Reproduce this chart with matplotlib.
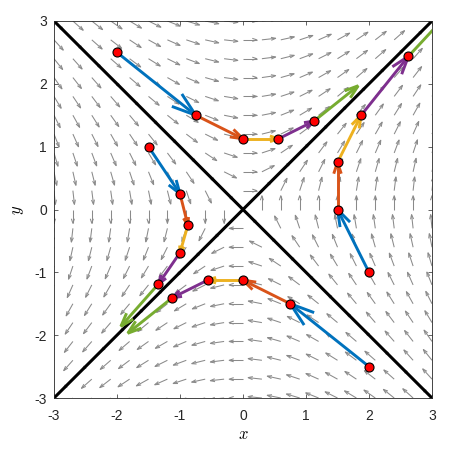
import numpy as np
import matplotlib.pyplot as plt
from matplotlib.collections import LineCollection

plt.rcParams['mathtext.fontset'] = 'cm'
plt.rcParams['font.family'] = ['Liberation Sans', 'DejaVu Sans']
plt.rcParams['axes.unicode_minus'] = False

# iterates, one row per run (the last point has no dot)
traj_x = [
    [-2.0, -0.75, 0.0, 0.5625, 1.125, 1.828],
    [-1.5, -1.0, -0.875, -1.0, -1.344, -1.938],
    [2.0, 0.75, 0.0, -0.5625, -1.125, -1.828],
    [2.0, 1.5, 1.5, 1.875, 2.625, 3.84],
]
traj_y = [
    [2.5, 1.5, 1.125, 1.125, 1.406, 1.969],
    [1.0, 0.25, -0.25, -0.6875, -1.1875, -1.859],
    [-2.5, -1.5, -1.125, -1.125, -1.406, -1.969],
    [-1.0, 0.0, 0.75, 1.5, 2.4375, 3.75],
]
step_colors = ['#0072BD', '#D95319', '#EDB120', '#7E2F8E', '#77AC30']
ticks = [-3, -2, -1, 0, 1, 2, 3]
grid_pts = np.linspace(-3, 3, 21)


def arrow_segs(x0, y0, dx, dy, alpha=0.33, beta=0.33):
    # matlab-style quiver arrow: shaft + open V head
    tx, ty = x0 + dx, y0 + dy
    shaft = [(x0, y0), (tx, ty)]
    head = [(tx - alpha * (dx + beta * dy), ty - alpha * (dy - beta * dx)),
            (tx, ty),
            (tx - alpha * (dx - beta * dy), ty - alpha * (dy + beta * dx))]
    return [shaft, head]


fig = plt.figure(figsize=(4.59, 4.70), dpi=100)
ax = fig.add_axes([54 / 459, 1 - 398 / 470, 378 / 459, 377 / 470])

# direction field of x' = y, y' = x, normalised
X, Y = np.meshgrid(grid_pts, grid_pts)
U, V = Y, X
mag = np.hypot(U, V)
L = 0.22
segs = []
for x0, y0, u, v, m in zip(X.ravel(), Y.ravel(), U.ravel(), V.ravel(), mag.ravel()):
    if m == 0:
        continue
    segs += arrow_segs(x0, y0, L * u / m, L * v / m)
ax.add_collection(LineCollection(segs, colors='#8a8a8a', linewidths=0.75, zorder=1))

# separatrices
ax.plot([-3, 3], [-3, 3], color='k', lw=2.2, zorder=2)
ax.plot([-3, 3], [3, -3], color='k', lw=2.2, zorder=2)

for xs, ys in zip(traj_x, traj_y):
    for i, c in enumerate(step_colors):
        dx = xs[i + 1] - xs[i]
        dy = ys[i + 1] - ys[i]
        lc = LineCollection(arrow_segs(xs[i], ys[i], dx, dy, alpha=0.24, beta=0.33),
                            colors=c, linewidths=2.1, zorder=3,
                            capstyle='butt', joinstyle='miter')
        ax.add_collection(lc)
    ax.plot(xs[:5], ys[:5], 'o', mfc='red', mec='k', ms=6.5, mew=0.8, zorder=4)

ax.set_xlim(-3, 3)
ax.set_ylim(-3, 3)
ax.set_xticks(ticks)
ax.set_yticks(ticks)
ax.tick_params(direction='in', top=True, right=True, length=3, width=0.5,
               labelsize=10, colors='#262626')
ax.tick_params(axis='x', pad=8)
ax.tick_params(axis='y', pad=5)
for s in ax.spines.values():
    s.set_color('#262626')
    s.set_linewidth(0.6)
ax.set_xlabel('$x$', fontsize=12, labelpad=3)
ax.set_ylabel('$y$', fontsize=12, labelpad=6)

plt.savefig('out.png', dpi=100)
plt.close()
